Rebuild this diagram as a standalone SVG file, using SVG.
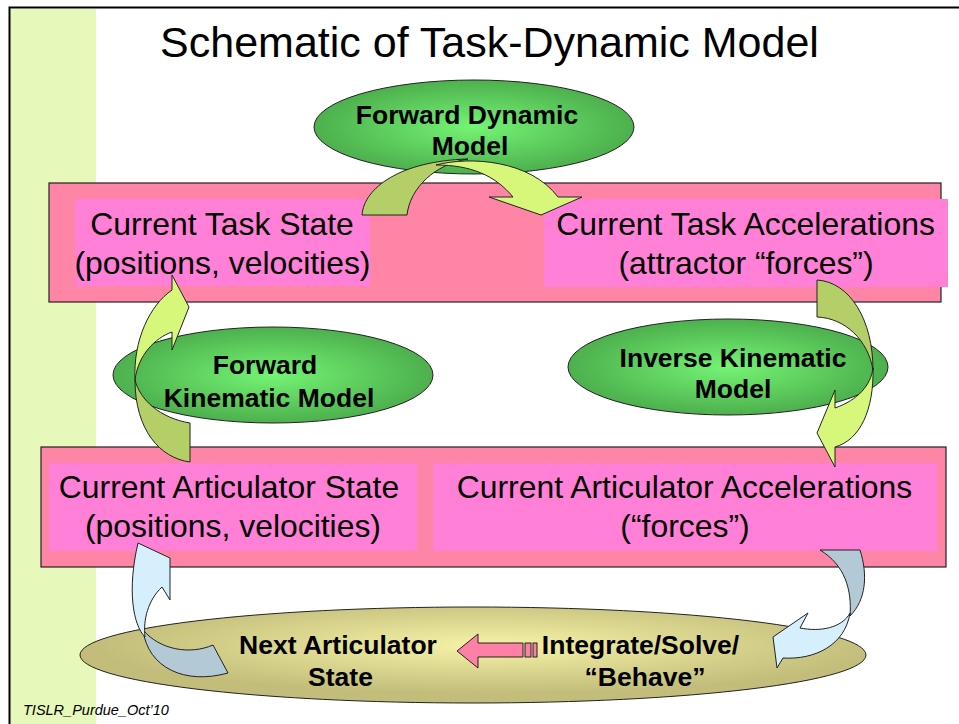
<svg xmlns="http://www.w3.org/2000/svg" width="959" height="724" viewBox="0 0 959 724">
<defs>
<radialGradient id="gGreen" cx="50%" cy="50%" r="50%">
<stop offset="0" stop-color="#74F474"/>
<stop offset="1" stop-color="#4DB04D"/>
</radialGradient>
<radialGradient id="gOlive" cx="52%" cy="40%" r="50%">
<stop offset="0" stop-color="#F6F3A8"/>
<stop offset="1" stop-color="#C2BD7A"/>
</radialGradient>
<style>
.outer{fill:#FF85A6;stroke:#222;stroke-width:1.2}
.inner{fill:#FF80D6}
.ell{fill:url(#gGreen);stroke:#222;stroke-width:1}
.lbl{font-family:"Liberation Sans",Arial,sans-serif;font-size:31.9px;fill:#000;text-anchor:middle}
.bold{font-family:"Liberation Sans",Arial,sans-serif;font-size:26.5px;font-weight:bold;fill:#000;text-anchor:middle}
.gd{fill:#B4CF67;stroke:#222;stroke-width:1}
.gl{fill:#D6F77A;stroke:#222;stroke-width:1}
.bd{fill:#B3C9D6;stroke:#222;stroke-width:1}
.bl{fill:#D6EFFC;stroke:#222;stroke-width:1}
.pk{fill:#FF80A6;stroke:#222;stroke-width:1}
</style>
</defs>
<rect x="0" y="0" width="959" height="724" fill="#fff"/>
<rect x="10" y="9" width="86" height="715" fill="#E6F8BA"/>
<path d="M9.5,724 V7.5 H959" fill="none" stroke="#000" stroke-width="2"/>
<g id="title"><text x="489.5" y="57" font-family="Liberation Sans, Arial, sans-serif" font-size="43" text-anchor="middle">Schematic of Task-Dynamic Model</text></g>

<g id="taskLevel"><rect class="outer" x="49" y="183" width="892" height="119"/></g>
<g id="taskState">
<rect class="inner" x="75" y="199" width="295" height="87"/>
<text class="lbl" x="222" y="235">Current Task State</text>
<text class="lbl" x="222.5" y="274">(positions, velocities)</text>
</g>
<g id="taskAccel">
<rect class="inner" x="544" y="199" width="404" height="88"/>
<text class="lbl" x="745.5" y="235">Current Task Accelerations</text>
<text class="lbl" x="746" y="274">(attractor “forces”)</text>
</g>

<g id="articLevel"><rect class="outer" x="41" y="447" width="905" height="120"/></g>
<g id="articState">
<rect class="inner" x="49" y="463" width="368" height="88"/>
<text class="lbl" x="229" y="498">Current Articulator State</text>
<text class="lbl" x="233" y="537">(positions, velocities)</text>
</g>
<g id="articAccel">
<rect class="inner" x="433" y="463" width="504" height="88"/>
<text class="lbl" x="684.5" y="498">Current Articulator Accelerations</text>
<text class="lbl" x="685" y="537">(“forces”)</text>
</g>

<g id="forwardDynamic">
<ellipse class="ell" cx="474" cy="127" rx="160" ry="47"/>
<text class="bold" x="467" y="124">Forward Dynamic</text>
<text class="bold" x="470" y="155">Model</text>
</g>
<g id="forwardKinematic">
<ellipse class="ell" cx="273" cy="375" rx="160" ry="48"/>
<text class="bold" x="265" y="374">Forward</text>
<text class="bold" x="269" y="407">Kinematic Model</text>
</g>
<g id="inverseKinematic">
<ellipse class="ell" cx="728" cy="367" rx="160" ry="48"/>
<text class="bold" x="733" y="367">Inverse Kinematic</text>
<text class="bold" x="733" y="398">Model</text>
</g>
<g id="integration">
<ellipse cx="473" cy="655" rx="393" ry="48" fill="url(#gOlive)" stroke="#222" stroke-width="1"/>
</g>
<g id="nextState">
<text class="bold" x="338" y="654">Next Articulator</text>
<text class="bold" x="340.5" y="686">State</text>
</g>
<g id="integrate">
<text class="bold" x="640.5" y="654">Integrate/Solve/</text>
<text class="bold" x="645" y="686">“Behave”</text>
</g>

<g id="connectors">
<path class="gd" d="M362,215 C364,188 400,161 468,159 C435,164 410,188 407,215 Z"/>
<path class="gl" d="M436,165 C470,156 530,160 558,197 L582,197 L541,215 L489,197 L513,197 C495,175 470,165 436,165 Z"/>
<path class="gd" d="M190,423 L190,462 C160,458 135,430 135,380 C140,400 160,418 190,423 Z"/>
<path class="gl" d="M135,380 C133,340 150,305 172,290 L172,275 L189,307 L172,350 L172,332 C155,338 138,355 135,380 Z"/>
<path class="gd" d="M817,280 C850,282 873,320 873,370 C868,340 845,318 817,317 Z"/>
<path class="gl" d="M873,368 C874,410 860,440 835,447 L835,467 L817,433 L835,390 L835,408 C858,400 871,385 873,368 Z"/>
<path class="bd" d="M820,550 L860,550 C868,575 866,600 850,616 C852,590 845,565 820,550 Z"/>
<path class="bl" d="M850,613 C845,645 815,660 783,658 L777,668 L773,637 L808,613 L800,628 C820,632 842,628 850,613 Z"/>
<path class="bd" d="M143,630 C148,668 185,685 228,673 L213,645 C190,655 160,650 143,630 Z"/>
<path class="bl" d="M138,543 L170,558 L170,600 L162,587 C148,600 143,620 145,637 C133,625 127,590 138,543 Z"/>
<polygon class="pk" points="457,651 478,634 478,643 523,643 523,657 478,657 478,668"/>
<rect class="pk" x="525" y="643" width="6" height="14"/>
<rect class="pk" x="533" y="643" width="4" height="14"/>
</g>
<text x="23" y="715" font-family="Liberation Sans, Arial, sans-serif" font-size="14.5" font-style="italic">TISLR_Purdue_Oct’10</text>
</svg>
